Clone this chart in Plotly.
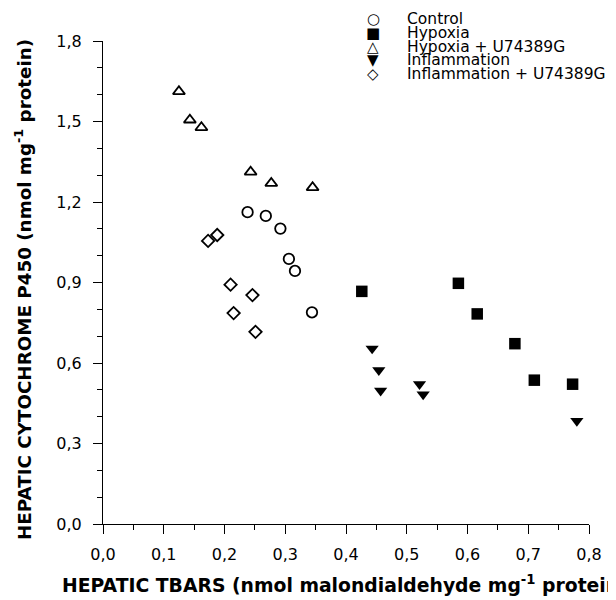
import plotly.graph_objects as go

# ---- data ----
series_names = ["Control", "Hypoxia", "Hypoxia + U74389G", "Inflammation", "Inflammation + U74389G"]

control_x = [0.238, 0.268, 0.292, 0.306, 0.316, 0.344]
control_y = [1.162, 1.148, 1.101, 0.988, 0.943, 0.789]

hypoxia_x = [0.426, 0.585, 0.616, 0.678, 0.710, 0.773]
hypoxia_y = [0.867, 0.897, 0.783, 0.672, 0.536, 0.521]

hypoxia_u_x = [0.125, 0.143, 0.162, 0.243, 0.277, 0.345]
hypoxia_u_y = [1.612, 1.506, 1.478, 1.312, 1.270, 1.254]

inflam_x = [0.443, 0.454, 0.457, 0.521, 0.527, 0.780]
inflam_y = [0.654, 0.573, 0.497, 0.521, 0.483, 0.384]

inflam_u_x = [0.173, 0.188, 0.210, 0.215, 0.246, 0.251]
inflam_u_y = [1.055, 1.077, 0.892, 0.786, 0.853, 0.716]

x_tick_vals = [0.0, 0.1, 0.2, 0.3, 0.4, 0.5, 0.6, 0.7, 0.8]
y_tick_vals = [0.0, 0.3, 0.6, 0.9, 1.2, 1.5, 1.8]

x_title = "<b>HEPATIC TBARS (nmol malondialdehyde mg<sup>-1</sup> protein)</b>"
y_title = "<b>HEPATIC CYTOCHROME P450 (nmol mg<sup>-1</sup> protein)</b>"

# ---- styles ----
FONT = "DejaVu Sans, Liberation Sans, Arial, sans-serif"
styles = [
    dict(symbol="circle-open", size=10.5, line=dict(width=1.8, color="black"), color="black"),
    dict(symbol="square", size=11.5, color="black", line=dict(width=0)),
    dict(symbol="triangle-up-open", size=10.5, line=dict(width=1.8, color="black"), color="black"),
    dict(symbol="triangle-down", size=11.5, color="black", line=dict(width=0)),
    dict(symbol="diamond-open", size=9.5, line=dict(width=1.8, color="black"), color="black"),
]
legend_glyphs = ["○", "■", "△", "▼", "◇"]

xs = [control_x, hypoxia_x, hypoxia_u_x, inflam_x, inflam_u_x]
ys = [control_y, hypoxia_y, hypoxia_u_y, inflam_y, inflam_u_y]

fig = go.Figure()
for name, x, y, st in zip(series_names, xs, ys, styles):
    fig.add_trace(go.Scatter(x=x, y=y, mode="markers", name=name, marker=st, showlegend=False))

# page has an 8px body margin: figure drawn at (8, 8)
OFF = 8
W, H = 616 - OFF, 600 - OFF
ml, mr, mt, mb = 103 - OFF, 27, 41 - OFF, 76
pw, ph = W - ml - mr, H - mt - mb

def px_to_paper_x(page_px):
    return (page_px - OFF - ml) / pw

def px_to_paper_y(page_py):
    return (H - mb - (page_py - OFF)) / ph

annotations = []
# legend built as text rows
for i, (name, g) in enumerate(zip(series_names, legend_glyphs)):
    yy = px_to_paper_y(19.5 + 13.6 * i)
    annotations.append(dict(x=px_to_paper_x(373), y=yy, xref="paper", yref="paper",
                            text=g, showarrow=False, xanchor="center", yanchor="middle",
                            font=dict(family="DejaVu Sans", size=15, color="black")))
    annotations.append(dict(x=px_to_paper_x(405), y=yy, xref="paper", yref="paper",
                            text=name, showarrow=False, xanchor="left", yanchor="middle",
                            font=dict(family=FONT, size=15.5, color="black")))

# axis titles
annotations.append(dict(x=px_to_paper_x(345), y=px_to_paper_y(584), xref="paper", yref="paper",
                        text=x_title, showarrow=False, xanchor="center", yanchor="middle",
                        font=dict(family=FONT, size=18.8, color="black")))
annotations.append(dict(x=px_to_paper_x(23), y=px_to_paper_y(290), xref="paper", yref="paper",
                        text=y_title, showarrow=False, xanchor="center", yanchor="middle",
                        textangle=-90, font=dict(family=FONT, size=18.3, color="black")))

fig.update_layout(
    width=W, height=H,
    margin=dict(l=ml, r=mr, t=mt, b=mb, pad=0),
    paper_bgcolor="white", plot_bgcolor="white",
    separators=",.",
    font=dict(family=FONT, color="black"),
    annotations=annotations,
    showlegend=False,
)
fig.update_xaxes(
    range=[0, 0.8], tickvals=x_tick_vals, tickformat=".1f",
    showline=True, linecolor="black", linewidth=1, mirror=False,
    showgrid=False, zeroline=False,
    ticks="outside", ticklen=9, tickwidth=1, tickcolor="black",
    ticklabelstandoff=7,
    tickfont=dict(family=FONT, size=16, color="black"),
    minor=dict(dtick=0.05, ticks="outside", ticklen=5, tickwidth=1, tickcolor="black", showgrid=False),
)
fig.update_yaxes(
    range=[0, 1.8], tickvals=y_tick_vals, tickformat=".1f",
    showline=True, linecolor="black", linewidth=1, mirror=False,
    showgrid=False, zeroline=False,
    ticks="outside", ticklen=9, tickwidth=1, tickcolor="black",
    ticklabelstandoff=8,
    tickfont=dict(family=FONT, size=16, color="black"),
    minor=dict(dtick=0.1, ticks="outside", ticklen=5, tickwidth=1, tickcolor="black", showgrid=False),
)

fig.write_html("out.html")
